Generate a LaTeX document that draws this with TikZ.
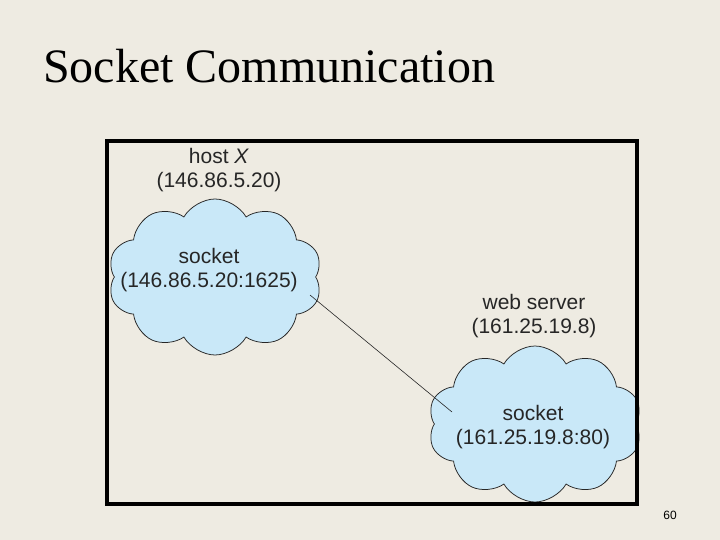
\documentclass[tikz,border=0pt]{standalone}
\usepackage{fontspec}
\setmainfont{Liberation Sans}
\newfontfamily\titlefont{Liberation Serif}
\usetikzlibrary{shapes.symbols,calc}
\definecolor{bg}{HTML}{EEEBE2}
\definecolor{cloudblue}{HTML}{C9E8F8}
\tikzset{
  sockcloud/.style={cloud, cloud puffs=10, cloud puff arc=120, aspect=1.4,
    draw=black!85, line width=0.75pt, fill=cloudblue,
    minimum width=214pt, minimum height=156pt, inner sep=0pt},
  lbl/.style={font=\fontsize{21}{23.5}\selectfont, align=center, inner sep=0pt, text=black!85},
  frame/.style={draw=black, line width=3.5pt}
}
\begin{document}
\begin{tikzpicture}[x=1pt,y=-1pt]
\fill[bg] (0,0) rectangle (720,540);
\useasboundingbox (0,0) rectangle (720,540);
\node[anchor=base west, inner sep=0pt, font=\titlefont\fontsize{48}{50}\selectfont] (title) at (43,83) {Socket Communication};
\node[sockcloud] (c1) at (215,277) {};
\node[sockcloud] (c2) at (535,424) {};
\draw[line width=0.6pt, black!85] ($(c1.center)+(95,18)$) coordinate (p1) -- ($(c2.center)+(-83,-12)$) coordinate (p2);
\node[lbl] (hostx) at (219,170) {host \textit{X}\\(146.86.5.20)};
\node[lbl] (s1) at (209,270) {socket\\(146.86.5.20:1625)};
\node[lbl] (web) at (534,316) {web server\\(161.25.19.8)};
\node[lbl] (s2) at (533,427) {socket\\(161.25.19.8:80)};
\draw[frame] (107,141) rectangle (637,504);
\node[anchor=base, inner sep=0pt, font=\fontsize{12}{14}\selectfont] (pg) at (670,519) {60};
\end{tikzpicture}
\end{document}
